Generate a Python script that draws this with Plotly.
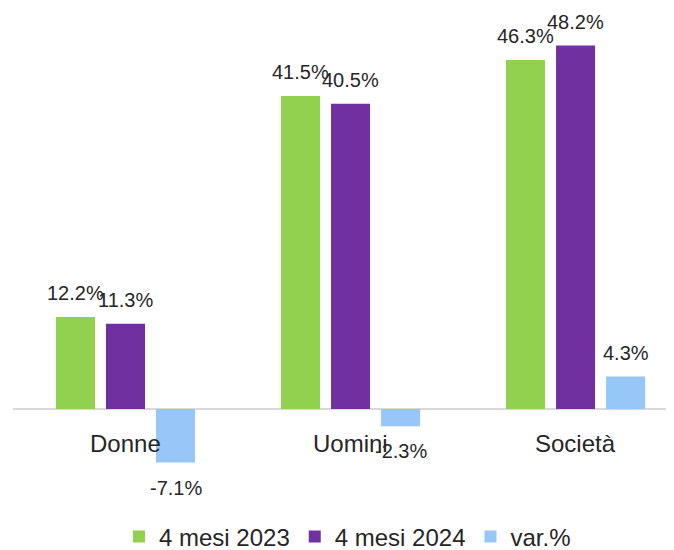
import plotly.graph_objects as go

categories = ["Donne", "Uomini", "Società"]
series_names = ["4 mesi 2023", "4 mesi 2024", "var.%"]
mesi_2023 = [12.2, 41.5, 46.3]
mesi_2024 = [11.3, 40.5, 48.2]
var_pct = [-7.1, -2.3, 4.3]
colors = ["#92D050", "#7030A0", "#97C6F9"]

FONT = "Liberation Sans"
TXT = "#262626"
BARGAP = 0.333
BARGROUPGAP = 0.22
x_idx = list(range(len(categories)))
all_series = [mesi_2023, mesi_2024, var_pct]
n_series = len(all_series)
slot = (1 - BARGAP) / n_series

fig = go.Figure()
for k, (name, vals, col) in enumerate(zip(series_names, all_series, colors)):
    fig.add_trace(go.Bar(
        x=x_idx, y=vals, name=name,
        marker=dict(color=col, line=dict(width=0)),
        hoverinfo="name+y",
    ))
    off = (k - (n_series - 1) / 2) * slot
    for i, v in enumerate(vals):
        fig.add_annotation(
            x=i + off, y=v, xref="x", yref="y", text=f"{v:.1f}%", showarrow=False,
            yanchor="middle", yshift=24 if v >= 0 else -25,
            font=dict(family=FONT, size=20, color=TXT),
        )

for i, c in enumerate(categories):
    fig.add_annotation(x=i, y=0, xref="x", yref="y", text=c, showarrow=False,
                       yanchor="middle", yshift=-35,
                       font=dict(family=FONT, size=24, color=TXT))

fig.update_layout(
    width=674, height=550,
    margin=dict(l=5, r=0, t=2, b=78, autoexpand=False),
    paper_bgcolor="white", plot_bgcolor="white",
    barmode="group", bargap=BARGAP, bargroupgap=BARGROUPGAP,
    showlegend=True,
    legend=dict(orientation="h", x=0.5, xanchor="center", y=-0.121, yanchor="middle",
                font=dict(family=FONT, size=24, color=TXT),
                itemwidth=30, traceorder="normal"),
    xaxis=dict(range=[-0.5, 2.473], showticklabels=False, showgrid=False,
               zeroline=False, showline=False, ticks=""),
    yaxis=dict(range=[-9.42, 52.92], showticklabels=False, showgrid=False,
               zeroline=True, zerolinecolor="#D9D9D9", zerolinewidth=2,
               showline=False, ticks=""),
)

fig.write_html("out.html")
